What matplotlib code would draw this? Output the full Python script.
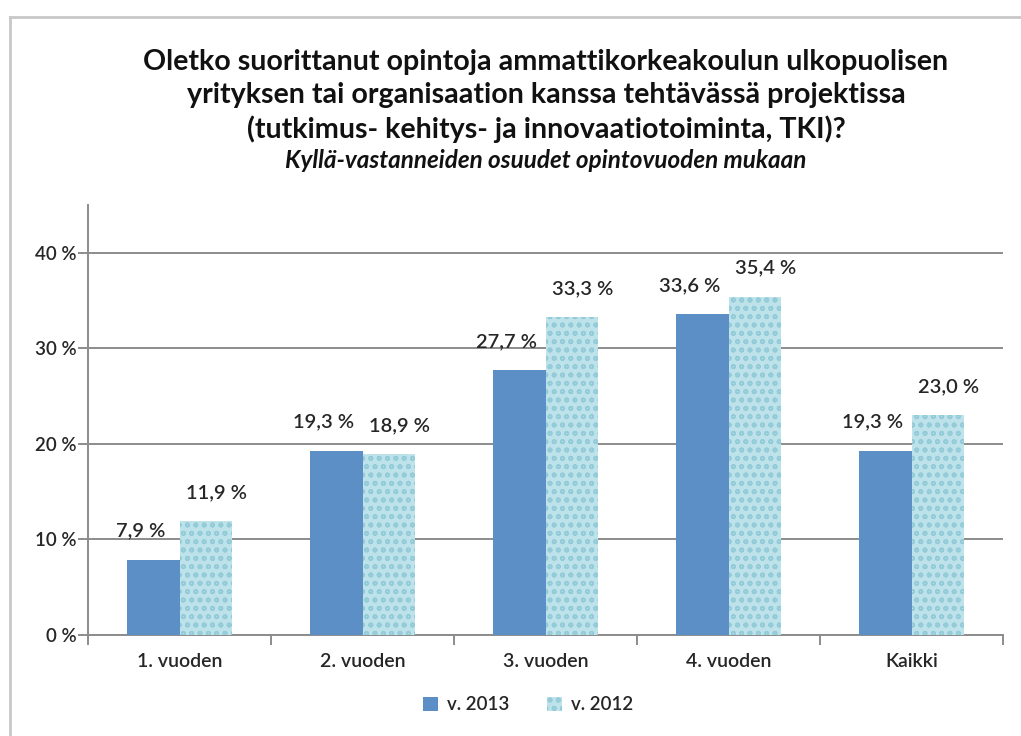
import numpy as np
import matplotlib as mpl
mpl.use('Agg')
import matplotlib.pyplot as plt
from matplotlib.lines import Line2D

# chart data
categories = ['1. vuoden', '2. vuoden', '3. vuoden', '4. vuoden', 'Kaikki']
share_2013 = [7.9, 19.3, 27.7, 33.6, 19.3]
share_2012 = [11.9, 18.9, 33.3, 35.4, 23.0]
series_names = ['v. 2013', 'v. 2012']
y_ticks = [0, 10, 20, 30, 40]

title = ('Oletko suorittanut opintoja ammattikorkeakoulun ulkopuolisen\n'
         'yrityksen tai organisaation kanssa tehtävässä projektissa\n'
         '(tutkimus- kehitys- ja innovaatiotoiminta, TKI)?')
subtitle = 'Kyllä-vastanneiden osuudet opintovuoden mukaan'

plt.rcParams['font.family'] = ['Lato', 'DejaVu Sans']
plt.rcParams['hatch.linewidth'] = 1.2

W, H = 1021, 736
fig = plt.figure(figsize=(W / 100, H / 100), dpi=100)
ax = fig.add_axes([88 / W, 1 - 635 / H, (1003 - 88) / W, (635 - 205) / H])

x = np.arange(len(categories))
bw = 0.285
dark = '#5B8FC6'
light = '#BDE2EA'
txt = '#262626'

b1 = ax.bar(x - bw / 2, share_2013, bw, color=dark, linewidth=0, zorder=3)
b2 = ax.bar(x + bw / 2, share_2012, bw, color=light, edgecolor='#93CCD8',
            hatch='oo', linewidth=0, zorder=3)

def pct(v):
    return f"{v:.1f}".replace('.', ',') + ' %'

for rect, v in zip(b1, share_2013):
    ax.annotate(pct(v), (rect.get_x() + rect.get_width() / 2, v),
                xytext=(-13, 20), textcoords='offset pixels',
                ha='center', va='bottom', fontsize=14.5, fontweight='semibold', color=txt)
for rect, v in zip(b2, share_2012):
    ax.annotate(pct(v), (rect.get_x() + rect.get_width() / 2, v),
                xytext=(11, 20), textcoords='offset pixels',
                ha='center', va='bottom', fontsize=14.5, fontweight='semibold', color=txt)

ax.set_xlim(-0.5, len(categories) - 0.5)
ax.set_ylim(0, 45)
ax.set_yticks(y_ticks)
ax.set_yticklabels([f"{t} %" for t in y_ticks], fontsize=13.5,
                   fontweight='semibold', color=txt)
ax.yaxis.grid(True, color='#8C8C8C', linewidth=1.4, zorder=0)

ax.set_xticks(x)
ax.set_xticklabels(categories, fontsize=14, fontweight='semibold', color=txt)
ax.set_xticks(np.arange(len(categories) + 1) - 0.5, minor=True)
ax.tick_params(axis='x', which='major', length=0, pad=13)
ax.tick_params(axis='x', which='minor', length=7, color='#8C8C8C', width=1.4)
ax.tick_params(axis='y', length=7, color='#8C8C8C', width=1.4, pad=1)

for side in ['top', 'right']:
    ax.spines[side].set_visible(False)
for side in ['left', 'bottom']:
    ax.spines[side].set_color('#8C8C8C')
    ax.spines[side].set_linewidth(1.4)

# titles
fig.text(546 / W, 1 - 96 / H, title, ha='center', va='center',
         fontsize=20.6, fontweight='bold', linespacing=1.33, color='#111111')
fig.text(546 / W, 1 - 161 / H, subtitle, ha='center', va='center',
         fontsize=17.5, fontweight='bold', style='italic', color='#111111')

fig.legend([b1, b2], series_names, loc='center', ncol=2, frameon=False,
           bbox_to_anchor=(528 / W, 1 - 705 / H), prop={'size': 13.5, 'weight': 'semibold'},
           handlelength=0.8, handleheight=0.8, columnspacing=2.0,
           handletextpad=0.5, labelcolor=txt)

# outer frame of the original chart object
fig.add_artist(Line2D([10 / W, 1], [1 - 17 / H, 1 - 17 / H], color='#C8C8C8', lw=2))
fig.add_artist(Line2D([10 / W, 10 / W], [0, 1 - 17 / H], color='#C8C8C8', lw=2))

fig.savefig('out.png', dpi=100)
